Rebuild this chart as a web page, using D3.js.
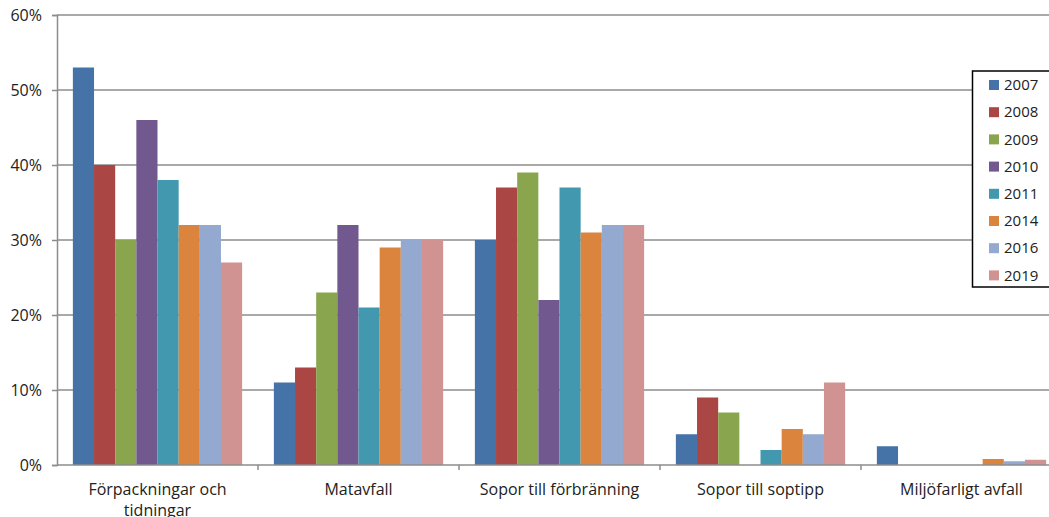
<!DOCTYPE html>
<html>
<head>
<meta charset="utf-8">
<script src="https://cdn.jsdelivr.net/npm/d3@7"></script>
<style>
  body { margin: 0; background: #fff; }
  svg { display: block; font-family: "Open Sans", "Noto Sans", sans-serif; }
</style>
</head>
<body>
<svg id="chart" width="1049" height="517"></svg>
<script>
var categories = ["Förpackningar och tidningar", "Matavfall", "Sopor till förbränning", "Sopor till soptipp", "Miljöfarligt avfall"];
var years = ["2007", "2008", "2009", "2010", "2011", "2014", "2016", "2019"];
var colors = ["#4572A7", "#AA4643", "#89A54E", "#71588F", "#4198AF", "#DB843D", "#93A9CF", "#D19392"];

// percent per category, one list per year
var v2007 = [53, 11, 30, 4.1, 2.5];
var v2008 = [40, 13, 37, 9, 0];
var v2009 = [30, 23, 39, 7, 0];
var v2010 = [46, 32, 22, 0, 0];
var v2011 = [38, 21, 37, 2, 0];
var v2014 = [32, 29, 31, 4.8, 0.8];
var v2016 = [32, 30, 32, 4.1, 0.5];
var v2019 = [27, 30, 32, 11, 0.7];
var series = [v2007, v2008, v2009, v2010, v2011, v2014, v2016, v2019];

var yTicks = [0, 10, 20, 30, 40, 50, 60];

var svg = d3.select("#chart");
var plotLeft = 57, plotRight = 1062, plotTop = 15, plotBottom = 465;

var x0 = d3.scaleBand().domain(categories).range([plotLeft, plotRight]).paddingInner(0).paddingOuter(0);
var bw = x0.bandwidth() / 9.5;   // gap width 150%
var x1 = d3.scaleBand().domain(years).range([0.75 * bw, x0.bandwidth() - 0.75 * bw]);
var y = d3.scaleLinear().domain([0, 60]).range([plotBottom, plotTop]);

// gridlines
svg.append("g").selectAll("line").data(yTicks.slice(1)).enter().append("line")
  .attr("x1", plotLeft).attr("x2", plotRight)
  .attr("y1", function(d) { return y(d); }).attr("y2", function(d) { return y(d); })
  .attr("stroke", "#8c8c8c").attr("stroke-width", 1.5);

// bars
var groups = svg.append("g").selectAll("g").data(categories).enter().append("g")
  .attr("transform", function(d) { return "translate(" + x0(d) + ",0)"; });

groups.selectAll("rect").data(function(c, ci) {
    return years.map(function(yr, i) { return {year: yr, i: i, v: series[i][ci]}; });
  }).enter().append("rect")
  .attr("x", function(d) { return x1(d.year); })
  .attr("width", x1.bandwidth())
  .attr("y", function(d) { return y(d.v); })
  .attr("height", function(d) { return plotBottom - y(d.v); })
  .attr("fill", function(d) { return colors[d.i]; });

// y axis
var yAxis = d3.axisLeft(y).tickValues(yTicks).tickSize(5).tickPadding(10)
  .tickFormat(function(d) { return d + "%"; });
var gy = svg.append("g").attr("transform", "translate(" + plotLeft + ",0)").call(yAxis);
gy.select(".domain").attr("stroke", "#8c8c8c").attr("stroke-width", 1.5);
gy.selectAll(".tick line").attr("stroke", "#8c8c8c").attr("stroke-width", 1.5);
gy.selectAll(".tick text").attr("font-size", 16).attr("fill", "#222").attr("font-family", "Open Sans, sans-serif");

// x axis line and ticks at category boundaries
svg.append("line").attr("x1", plotLeft).attr("x2", plotRight).attr("y1", plotBottom).attr("y2", plotBottom)
  .attr("stroke", "#8c8c8c").attr("stroke-width", 1.5);
svg.append("g").selectAll("line").data(categories).enter().append("line")
  .attr("x1", function(d) { return x0(d) + x0.bandwidth(); })
  .attr("x2", function(d) { return x0(d) + x0.bandwidth(); })
  .attr("y1", plotBottom).attr("y2", plotBottom + 5)
  .attr("stroke", "#8c8c8c").attr("stroke-width", 1.5);

// category labels
var labelLines = {"Förpackningar och tidningar": ["Förpackningar och", "tidningar"]};
svg.append("g").selectAll("text").data(categories).enter().append("text")
  .attr("x", function(d) { return x0(d) + x0.bandwidth() / 2; })
  .attr("y", 495)
  .attr("text-anchor", "middle")
  .attr("font-size", 16)
  .attr("fill", "#222")
  .each(function(d) {
    var lines = labelLines[d] || [d];
    var t = d3.select(this);
    lines.forEach(function(l, i) {
      t.append("tspan").attr("x", x0(d) + x0.bandwidth() / 2).attr("dy", i ? 21 : 0).text(l);
    });
  });

// legend
var lg = svg.append("g");
lg.append("rect").attr("x", 972.5).attr("y", 71).attr("width", 85).attr("height", 216)
  .attr("fill", "#fff").attr("stroke", "#000").attr("stroke-width", 1.5);
var items = lg.selectAll("g").data(years).enter().append("g")
  .attr("transform", function(d, i) { return "translate(0," + (85 + i * 27.2) + ")"; });
items.append("rect").attr("x", 989).attr("y", -5).attr("width", 10).attr("height", 10)
  .attr("fill", function(d, i) { return colors[i]; });
items.append("text").attr("x", 1004).attr("y", 0).attr("dy", "0.35em")
  .attr("font-size", 15).attr("fill", "#222").text(function(d) { return d; });
</script>
</body>
</html>
